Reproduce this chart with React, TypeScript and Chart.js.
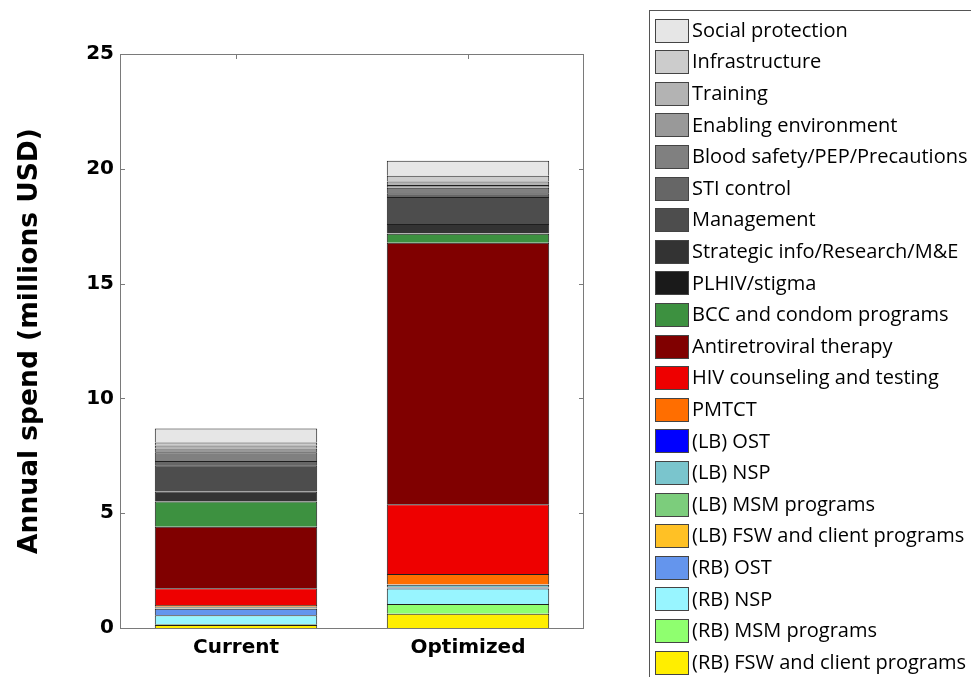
import React, { useEffect, useRef } from "react";
import { Chart, registerables } from "chart.js";

Chart.register(...registerables);

const categories = ["Current", "Optimized"];

// bottom of the stack first
const programs = [
  "(RB) FSW and client programs",
  "(RB) MSM programs",
  "(RB) NSP",
  "(RB) OST",
  "(LB) FSW and client programs",
  "(LB) MSM programs",
  "(LB) NSP",
  "(LB) OST",
  "PMTCT",
  "HIV counseling and testing",
  "Antiretroviral therapy",
  "BCC and condom programs",
  "PLHIV/stigma",
  "Strategic info/Research/M&E",
  "Management",
  "STI control",
  "Blood safety/PEP/Precautions",
  "Enabling environment",
  "Training",
  "Infrastructure",
  "Social protection",
];

const currentSpend = [
  0.13, 0.03, 0.39, 0.29, 0.02, 0.02, 0.03, 0.02, 0.07, 0.73, 2.68, 1.1, 0.02,
  0.42, 1.14, 0.18, 0.39, 0.16, 0.13, 0.13, 0.61,
];

const optimizedSpend = [
  0.62, 0.43, 0.67, 0.04, 0.01, 0.01, 0.1, 0.01, 0.46, 3.04, 11.39, 0.39, 0.02,
  0.41, 1.17, 0.16, 0.24, 0.12, 0.16, 0.25, 0.65,
];

const programColors = [
  "#ffee00",
  "#8fff6f",
  "#98f5ff",
  "#6495ed",
  "#ffc125",
  "#7ccd7c",
  "#7ac5cd",
  "#0000ff",
  "#ff6e00",
  "#ee0000",
  "#800000",
  "#3d9140",
  "#1a1a1a",
  "#333333",
  "#4d4d4d",
  "#666666",
  "#808080",
  "#999999",
  "#b3b3b3",
  "#cccccc",
  "#e6e6e6",
];

const yMin = 0;
const yMax = 25;
const yStep = 5;

const FONT = "'DejaVu Sans', sans-serif";
const LEGEND_FONT = "'Open Sans', sans-serif";

const framePlugin = {
  id: "frame",
  afterDraw(chart: any) {
    const { ctx, chartArea } = chart;
    const { left, right, top, bottom } = chartArea;
    ctx.save();
    ctx.strokeStyle = "#7a7a7a";
    ctx.lineWidth = 1;
    ctx.strokeRect(left + 0.5, top + 0.5, right - left - 1, bottom - top);
    // inward ticks
    const yScale = chart.scales.y;
    const xScale = chart.scales.x;
    ctx.beginPath();
    yScale.ticks.forEach((t: any) => {
      const y = Math.round(yScale.getPixelForValue(t.value)) + 0.5;
      ctx.moveTo(left, y);
      ctx.lineTo(left + 5, y);
      ctx.moveTo(right, y);
      ctx.lineTo(right - 5, y);
    });
    categories.forEach((_c, i) => {
      const x = Math.round(xScale.getPixelForValue(i)) + 0.5;
      ctx.moveTo(x, top);
      ctx.lineTo(x, top + 5);
    });
    ctx.stroke();
    ctx.restore();
  },
};

const legendPlugin = {
  id: "boxLegend",
  afterDraw(chart: any) {
    const { ctx } = chart;
    const datasets = chart.data.datasets;
    ctx.save();
    ctx.strokeStyle = "#555555";
    ctx.lineWidth = 1;
    ctx.strokeRect(649.5, 10.5, 340, 700);
    const firstCenter = 30;
    const pitch = 31.6;
    ctx.font = `20px ${LEGEND_FONT}`;
    ctx.textBaseline = "middle";
    ctx.textAlign = "left";
    for (let k = 0; k < datasets.length; k++) {
      const ds = datasets[datasets.length - 1 - k];
      const cy = firstCenter + k * pitch;
      const sy = Math.round(cy - 11.5) + 0.5;
      ctx.fillStyle = ds.backgroundColor;
      ctx.fillRect(655.5, sy, 33, 23);
      ctx.strokeStyle = "#444444";
      ctx.strokeRect(655.5, sy, 33, 23);
      ctx.fillStyle = "#000000";
      ctx.fillText(ds.label, 692, cy + 1);
    }
    ctx.restore();
  },
};

export default function App() {
  const canvasRef = useRef<HTMLCanvasElement | null>(null);

  useEffect(() => {
    document.body.style.margin = "0";
    const canvas = canvasRef.current;
    if (!canvas) return;
    const chart = new Chart(canvas, {
      type: "bar",
      data: {
        labels: categories,
        datasets: programs.map((name, i) => ({
          label: name,
          data: [currentSpend[i], optimizedSpend[i]],
          backgroundColor: programColors[i],
          borderColor: "#1e1e1e",
          borderWidth: 1,
          borderSkipped: "start",
          categoryPercentage: 1,
          barPercentage: 0.7,
        })),
      },
      options: {
        responsive: false,
        animation: false,
        maintainAspectRatio: false,
        layout: { padding: { left: 0, top: 54, right: 387, bottom: 0 } },
        plugins: {
          legend: { display: false },
          tooltip: { enabled: false },
        },
        scales: {
          x: {
            stacked: true,
            grid: { display: false, drawTicks: false },
            border: { display: false },
            ticks: {
              color: "#000000",
              padding: 8,
              font: { family: FONT, size: 20, weight: "bold" },
            },
            afterFit(scale: any) {
              scale.height = 49;
            },
          },
          y: {
            stacked: true,
            min: yMin,
            max: yMax,
            grid: { display: false, drawTicks: false },
            border: { display: false },
            ticks: {
              stepSize: yStep,
              color: "#000000",
              padding: 6,
              font: { family: FONT, size: 20, weight: "bold" },
            },
            title: {
              display: true,
              text: "Annual spend (millions USD)",
              color: "#000000",
              padding: { top: 14, bottom: 4 },
              font: { family: FONT, size: 26.5, weight: "bold" },
            },
            afterFit(scale: any) {
              scale.width = 120;
            },
          },
        },
      },
      plugins: [framePlugin, legendPlugin],
    });
    return () => chart.destroy();
  }, []);

  return (
    <div style={{ width: 971, height: 677, background: "#ffffff" }}>
      <canvas ref={canvasRef} width={971} height={677} style={{ display: "block" }} />
    </div>
  );
}
